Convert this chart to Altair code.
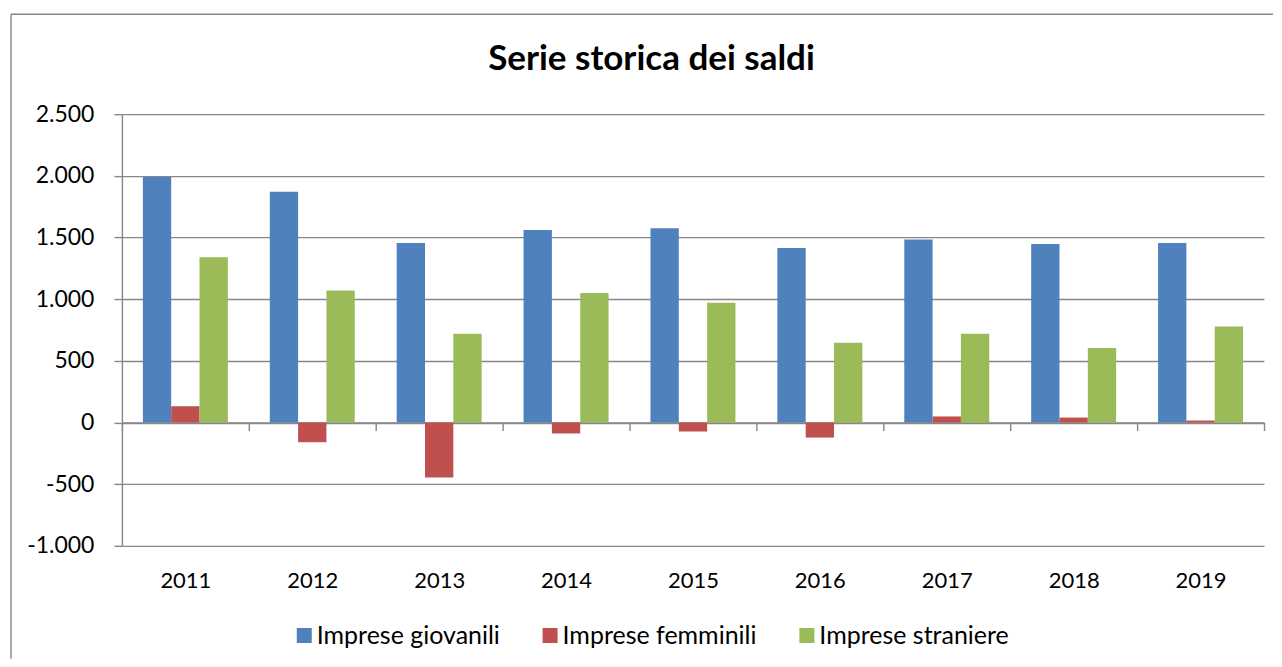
import altair as alt
import pandas as pd

years = ["2011", "2012", "2013", "2014", "2015", "2016", "2017", "2018", "2019"]
giovanili = [1990, 1870, 1456, 1561, 1575, 1415, 1483, 1448, 1456]
femminili = [132, -160, -446, -89, -73, -122, 49, 40, 16]
straniere = [1340, 1070, 719, 1051, 970, 646, 719, 605, 778]
series = ["Imprese giovanili", "Imprese femminili", "Imprese straniere"]
colors = ["#4F81BD", "#C0504D", "#9BBB59"]
y_ticks = [-1000, -500, 0, 500, 1000, 1500, 2000, 2500]
title_text = "Serie storica dei saldi"

rows = []
for i, yr in enumerate(years):
    for s, vals in zip(series, [giovanili, femminili, straniere]):
        rows.append({"anno": yr, "serie": s, "valore": vals[i]})
df = pd.DataFrame(rows)
one = pd.DataFrame({"k": [0]})

W, H = 1143, 432
FONT = "Lato"
GRID = "#878787"
LW = 1.4

bars = alt.Chart(df).mark_bar().encode(
    x=alt.X(
        "anno:N", sort=years,
        scale=alt.Scale(paddingInner=0, paddingOuter=0),
        axis=alt.Axis(
            title=None, orient="bottom", offset=-123.4,
            domain=True, domainColor=GRID, domainWidth=LW,
            ticks=True, tickBand="extent", tickSize=8, tickColor=GRID, tickWidth=LW,
            labelPadding=140, labelFont=FONT, labelFontSize=22, labelColor="#000000",
            labelAngle=0, grid=False,
        ),
    ),
    xOffset=alt.XOffset("serie:N", sort=series,
                        scale=alt.Scale(paddingInner=0, paddingOuter=0.74)),
    y=alt.Y(
        "valore:Q",
        scale=alt.Scale(domain=[-1000, 2500], nice=False, zero=True),
        axis=alt.Axis(
            values=y_ticks, title=None,
            labelExpr="(datum.value < 0 ? '-' : '') + replace(format(abs(datum.value), ','), ',', '.')",
            domain=True, domainColor=GRID, domainWidth=LW,
            ticks=True, tickSize=8, tickColor=GRID, tickWidth=LW,
            grid=True, gridColor=GRID, gridWidth=LW,
            labelPadding=20, labelFont=FONT, labelFontSize=23, labelColor="#000000",
        ),
    ),
    color=alt.Color(
        "serie:N", sort=series,
        scale=alt.Scale(domain=series, range=colors),
        legend=alt.Legend(
            title=None, orient="none", legendX=170, legendY=509,
            direction="horizontal", symbolType="square", symbolSize=225,
            symbolStrokeWidth=0, labelFont=FONT, labelFontSize=25, labelColor="#000000",
            labelOffset=0, columnPadding=37, labelLimit=400, padding=0,
        ),
    ),
)

frame_top = alt.Chart(one).mark_rule(color=GRID, strokeWidth=LW).encode(
    x=alt.value(-111), x2=alt.value(1152), y=alt.value(-100)
)
frame_left = alt.Chart(one).mark_rule(color=GRID, strokeWidth=LW).encode(
    x=alt.value(-111), y=alt.value(-100), y2=alt.value(545)
)
title = alt.Chart(one).mark_text(
    text=title_text, font=FONT, fontSize=35, fontWeight="bold",
    align="center", baseline="alphabetic", color="#000000",
).encode(x=alt.value(530), y=alt.value(-44))

chart = alt.layer(frame_top, frame_left, title, bars).properties(
    width=W, height=H,
    padding={"left": 2, "top": 5, "right": 0, "bottom": 0},
    background="#ffffff",
).configure_view(stroke=None)

chart.save("out.html", embed_options={"renderer": "svg", "actions": False})
